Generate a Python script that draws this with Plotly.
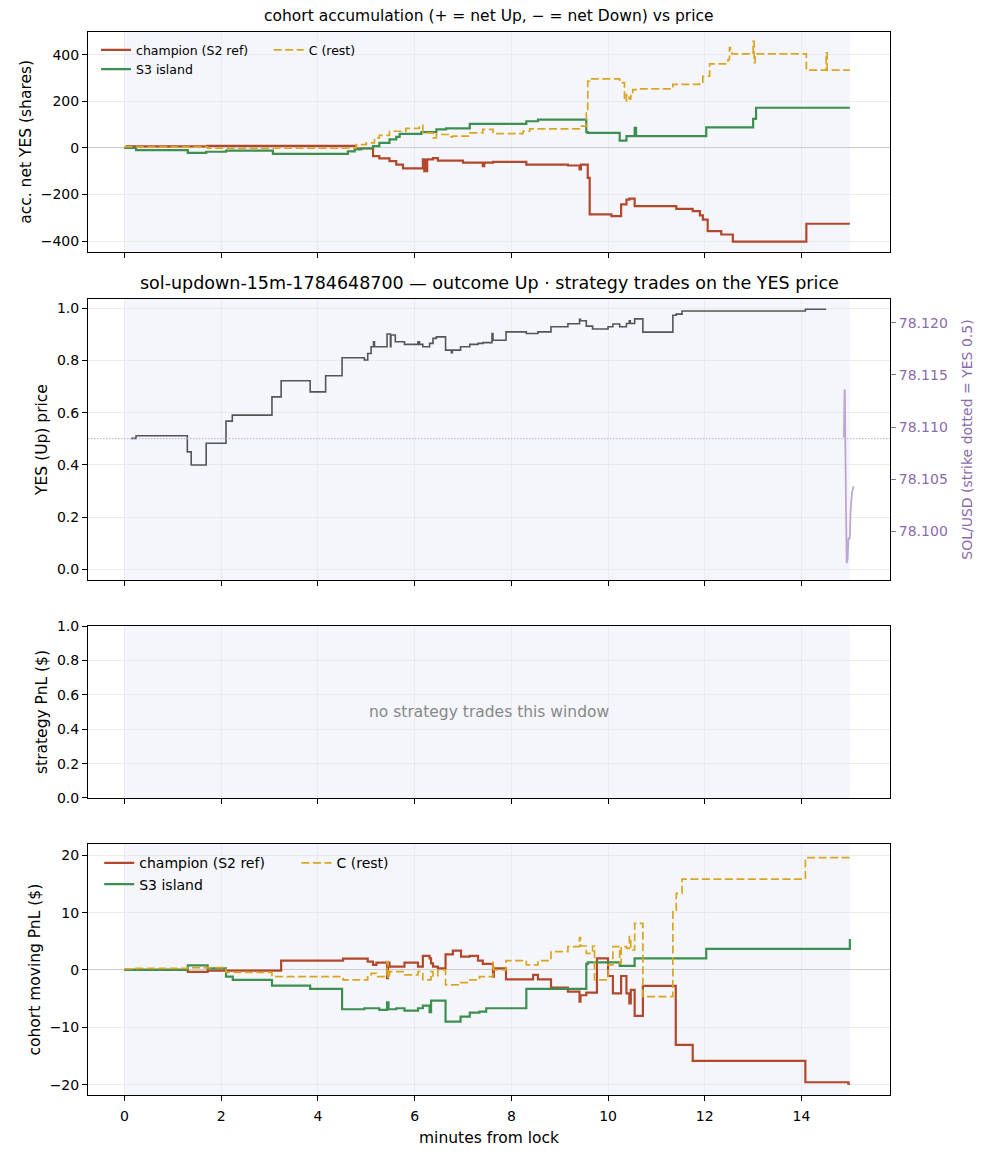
import plotly.graph_objects as go

# ---- data ------------------------------------------------------------------
WINDOW = [0.0, 15.0]          # lock .. resolution (minutes)
STRIKE = 78.10888             # SOL/USD strike

# panel 1: accumulated net YES shares
acc_champ_t = [0, 0.05, 1.72, 4.79, 5.14, 5.27, 5.48, 5.62, 5.76, 6.17, 6.20, 6.21, 6.25, 6.26,
               6.38, 6.48, 7.0, 7.41, 7.44, 7.62, 8.31, 9.17, 9.41, 9.44, 9.58, 9.62, 10.07,
               10.27, 10.38, 10.44, 10.55, 11.41, 11.75, 11.90, 11.96, 12.06, 12.34, 12.58,
               14.10, 15.0]
acc_champ = [0, 6, 8, -3, -36, -45, -57, -72, -88, -50, -100, -52, -100, -50,
             -44, -55, -64, -79, -64, -60, -72, -76, -93, -72, -129, -286, -293,
             -243, -222, -218, -250, -262, -272, -290, -308, -358, -372, -403,
             -326, -326]

acc_s3_t = [0, 0.24, 1.31, 1.69, 2.10, 3.07, 4.62, 4.76, 4.90, 5.14, 5.27, 5.48, 5.62, 5.69,
            6.14, 6.45, 6.65, 7.14, 8.31, 8.55, 9.55, 9.58, 10.24, 10.38, 10.55, 10.58,
            12.03, 13.0, 13.06, 15.0]
acc_s3 = [0, -10, -22, -17, -12, -26, -15, -7, -2, 7, 21, 36, 47, 60,
          67, 79, 83, 103, 114, 121, 67, 64, 31, 50, 86, 50,
          88, 124, 172, 172]

acc_rest_t = [0, 1.72, 4.79, 5.0, 5.17, 5.27, 5.48, 5.82, 6.10, 6.17, 6.38, 6.45, 6.72, 6.79,
              7.14, 7.41, 7.62, 8.24, 8.38, 9.41, 9.55, 9.58, 9.62, 10.24, 10.34, 10.38,
              10.44, 10.47, 10.51, 10.65, 11.34, 11.89, 11.96, 12.10, 12.48, 12.51, 12.53,
              12.56, 13.0, 13.02, 13.04, 14.10, 14.51, 14.53, 15.0]
acc_rest = [4, -2, 14, 21, 43, 53, 71, 83, 96, 64, 43, 57, 47, 50,
            64, 79, 61, 71, 81, 93, 157, 286, 296, 280, 200, 228,
            210, 228, 250, 253, 272, 282, 307, 360, 379, 430, 408,
            403, 457, 365, 403, 333, 408, 333, 333]

# panel 2: YES (Up) price and SOL/USD
yes_t = [0.14, 0.24, 1.30, 1.38, 1.69, 2.10, 2.23, 3.05, 3.24, 3.84, 4.16, 4.50, 4.96, 5.03,
         5.10, 5.15, 5.17, 5.43, 5.50, 5.51, 5.60, 5.79, 6.07, 6.10, 6.17, 6.31, 6.38, 6.45,
         6.64, 6.76, 6.78, 6.95, 7.14, 7.31, 7.41, 7.60, 7.62, 7.89, 8.31, 8.55, 8.82, 9.17,
         9.41, 9.43, 9.55, 9.68, 10.0, 10.10, 10.24, 10.38, 10.44, 10.46, 10.55, 10.72,
         11.34, 11.41, 11.53, 14.08, 14.51]
yes_price = [0.502, 0.512, 0.450, 0.400, 0.483, 0.568, 0.591, 0.661, 0.723, 0.680, 0.742,
             0.811, 0.802, 0.827, 0.853, 0.872, 0.853, 0.902, 0.853, 0.898, 0.872, 0.862,
             0.872, 0.862, 0.853, 0.866, 0.885, 0.891, 0.840, 0.830, 0.840, 0.853, 0.862,
             0.866, 0.869, 0.904, 0.878, 0.910, 0.904, 0.910, 0.930, 0.941, 0.958, 0.953,
             0.932, 0.921, 0.930, 0.940, 0.930, 0.942, 0.953, 0.942, 0.960, 0.909, 0.974,
             0.978, 0.990, 0.997, 0.997]

sol_t = [14.877, 14.884, 14.891, 14.898, 14.905, 14.912, 14.919, 14.926, 14.933, 14.940,
         14.954, 14.967, 14.974, 14.988, 15.001, 15.015, 15.029, 15.042, 15.060, 15.078]
sol_usd = [78.1090, 78.1133, 78.1136, 78.1135, 78.1090, 78.1040, 78.1000, 78.0975, 78.0969,
           78.0970, 78.0973, 78.0990, 78.0994, 78.0992, 78.0995, 78.1020, 78.1030, 78.1036,
           78.1040, 78.1043]

# panel 4: cohort moving PnL ($)
pnl_champ_t = [0, 1.31, 1.72, 3.24, 4.52, 5.03, 5.14, 5.21, 5.43, 5.45, 5.48, 5.79, 6.07, 6.17,
               6.31, 6.34, 6.38, 6.48, 6.64, 6.79, 6.96, 7.14, 7.31, 7.41, 7.62, 7.64, 7.89,
               8.45, 8.55, 8.82, 9.17, 9.41, 9.43, 9.55, 9.77, 10.0, 10.10, 10.27, 10.38,
               10.44, 10.47, 10.55, 10.72, 11.40, 11.75, 14.08, 14.97, 15.0]
pnl_champ = [0, -0.35, -0.1, 1.63, 1.97, 1.45, 0.87, 1.28, -1.45, 1.28, 0.58, 1.28, 0.58, 2.44,
             2.03, 1.16, 0.58, 0.29, 2.73, 3.37, 2.32, 2.44, 1.63, 1.05, -1.16, 0.29, -1.63,
             -0.87, -1.63, -3.07, -3.77, -5.52, -4.41, -3.95, 2.03, -1.05, -4.07, -1.05, -4.07,
             -5.81, -3.48, -8.01, -2.79, -13.07, -15.86, -19.58, -19.87, -19.87]

pnl_s3_t = [0, 1.31, 1.72, 2.10, 2.24, 3.05, 3.84, 4.50, 4.96, 5.27, 5.43, 5.46, 5.62, 5.79,
            6.07, 6.17, 6.31, 6.34, 6.64, 6.95, 7.14, 7.34, 7.48, 8.31, 9.55, 9.58, 10.24,
            10.55, 12.03, 15.0]
pnl_s3 = [0, 0.81, 0.29, -1.16, -1.74, -2.73, -3.31, -6.85, -6.68, -6.97, -5.63, -6.85, -6.68,
          -7.08, -6.68, -6.21, -7.37, -5.34, -9.0, -8.13, -7.43, -7.26, -6.68, -3.31, 1.05,
          1.31, 0.70, 2.03, 3.66, 5.4]

pnl_rest_t = [0, 0.24, 1.31, 2.10, 3.05, 4.52, 5.03, 5.10, 5.21, 5.43, 5.45, 5.48, 5.79, 6.07,
              6.17, 6.34, 6.38, 6.48, 6.64, 6.95, 7.14, 7.34, 7.62, 7.64, 7.89, 8.31, 8.55,
              8.82, 9.17, 9.41, 9.43, 9.55, 9.68, 9.72, 10.0, 10.10, 10.24, 10.27, 10.38,
              10.44, 10.47, 10.55, 10.72, 11.34, 11.41, 11.53, 14.08, 15.0]
pnl_rest = [0.17, 0.29, 0.41, -0.41, -1.16, -1.74, -0.87, -0.58, -1.16, 1.45, -1.45, -0.29,
            -0.87, -0.29, -1.74, -0.29, -1.05, 0, -2.61, -2.21, -1.74, -1.16, 1.31, 0, 1.63,
            0.87, 1.63, 3.19, 4.07, 5.63, 4.18, 2.9, 4.18, -1.74, 0.87, 4.07, 1.16, 4.07,
            3.77, 5.81, 3.48, 8.13, -4.65, 10.45, 13.36, 15.85, 19.57, 19.74]

COHORTS = ["champion (S2 ref)", "S3 island", "C (rest)"]
# -----------------------------------------------------------------------------

RED, GREEN, GOLD = "#b3472b", "#3d8f50", "#daa520"
PURPLE, LAVENDER = "#8a6aad", "#bba7d6"
FONT = "DejaVu Sans"
DASH = "8px,3.5px"

fig = go.Figure()


def step(x, y, ax, color, name=None, legend=None, dash="solid", width=2.2):
    fig.add_trace(go.Scatter(
        x=x, y=y, mode="lines", line=dict(shape="hv", color=color, width=width, dash=dash),
        xaxis=ax[0], yaxis=ax[1], name=name, showlegend=name is not None,
        legend=legend, hoverinfo="skip"))


# accumulation
step(acc_champ_t, acc_champ, ("x", "y"), RED, COHORTS[0], "legend")
step(acc_s3_t, acc_s3, ("x", "y"), GREEN, COHORTS[1], "legend")
step(acc_rest_t, acc_rest, ("x", "y"), GOLD, COHORTS[2], "legend2", dash=DASH, width=1.7)

# price + SOL
step(yes_t, yes_price, ("x2", "y2"), "#555555", width=1.6)
fig.add_trace(go.Scatter(x=sol_t, y=sol_usd, mode="lines", line=dict(color=LAVENDER, width=1.8),
                         xaxis="x2", yaxis="y5", showlegend=False, hoverinfo="skip"))

# cohort pnl
step(pnl_champ_t, pnl_champ, ("x4", "y4"), RED, COHORTS[0], "legend3")
step(pnl_s3_t, pnl_s3, ("x4", "y4"), GREEN, COHORTS[1], "legend3")
step(pnl_rest_t, pnl_rest, ("x4", "y4"), GOLD, COHORTS[2], "legend4", dash=DASH, width=1.7)

# shaded window + strike
shapes = []
for xa, ya in [("x", "y"), ("x2", "y2"), ("x3", "y3"), ("x4", "y4")]:
    shapes.append(dict(type="rect", xref=xa, yref=ya + " domain", x0=WINDOW[0], x1=WINDOW[1],
                       y0=0, y1=1, fillcolor="#f5f6fb", line=dict(width=0), layer="below"))
shapes.append(dict(type="line", xref="x2 domain", yref="y5", x0=0, x1=1, y0=STRIKE, y1=STRIKE,
                   line=dict(color=LAVENDER, width=1, dash="1.5px,1.5px")))

xcommon = dict(range=[-0.754, 15.83], tickvals=list(range(0, 16, 2)), showline=True, mirror=True,
               linecolor="black", linewidth=1, ticks="outside", ticklen=5, tickcolor="black",
               showgrid=True, gridcolor="#ebebeb", zeroline=False, tickfont=dict(size=14))
ycommon = dict(showline=True, mirror=True, linecolor="black", linewidth=1, ticks="outside",
               ticklen=5, tickcolor="black", showgrid=True, gridcolor="#ebebeb",
               tickfont=dict(size=14), title_font=dict(size=15.5), title_standoff=5)

legend_base = dict(xanchor="left", yanchor="top", bgcolor="rgba(0,0,0,0)", borderwidth=0,
                   orientation="v", itemwidth=30)

fig.update_layout(
    width=980, height=1148,
    margin=dict(l=80, r=98, t=24, b=61),
    plot_bgcolor="white", paper_bgcolor="white",
    font=dict(family=FONT, color="black", size=14),
    shapes=shapes,
    xaxis=dict(xcommon, anchor="y", matches="x4", showticklabels=False),
    xaxis2=dict(xcommon, anchor="y2", matches="x4", showticklabels=False),
    xaxis3=dict(xcommon, anchor="y3", matches="x4", showticklabels=False),
    xaxis4=dict(xcommon, anchor="y4", ticklabelstandoff=3,
                title=dict(text="minutes from lock", font=dict(size=15.5), standoff=9)),
    yaxis=dict(ycommon, domain=[0.7933, 1.0], range=[-446, 497],
               tickvals=[-400, -200, 0, 200, 400], zeroline=True, zerolinecolor="#cccccc",
               zerolinewidth=1, title_text="acc. net YES (shares)"),
    yaxis2=dict(ycommon, domain=[0.4845, 0.7488], range=[-0.041, 1.036],
                tickvals=[0, 0.2, 0.4, 0.6, 0.8, 1.0], tickformat=".1f", zeroline=False,
                title_text="YES (Up) price"),
    yaxis5=dict(overlaying="y2", anchor="x2", side="right", range=[78.0953, 78.1223],
                tickvals=[78.100, 78.105, 78.110, 78.115, 78.120], tickformat=".3f",
                ticks="outside", ticklen=5, tickcolor=PURPLE, showgrid=False, zeroline=False,
                tickfont=dict(size=14, color=PURPLE), showline=False,
                title=dict(text="SOL/USD (strike dotted = YES 0.5)",
                           font=dict(size=14, color=PURPLE), standoff=15)),
    yaxis3=dict(ycommon, domain=[0.2794, 0.4412], range=[0, 1],
                tickvals=[0, 0.2, 0.4, 0.6, 0.8, 1.0], tickformat=".1f", zeroline=False,
                title_text="strategy PnL ($)"),
    yaxis4=dict(ycommon, domain=[0.0, 0.2358], range=[-21.8, 21.9],
                tickvals=[-20, -10, 0, 10, 20], zeroline=True, zerolinecolor="#cccccc",
                zerolinewidth=1, title_text="cohort moving PnL ($)"),
    legend=dict(legend_base, x=0.010, y=0.997, font=dict(size=12.5)),
    legend2=dict(legend_base, x=0.2253, y=0.997, font=dict(size=12.5)),
    legend3=dict(legend_base, x=0.014, y=0.233, font=dict(size=14)),
    legend4=dict(legend_base, x=0.260, y=0.233, font=dict(size=14)),
    annotations=[
        dict(text="cohort accumulation (+ = net Up, \u2212 = net Down) vs price",
             xref="paper", yref="paper", x=0.5, y=1.0, yshift=5, showarrow=False,
             xanchor="center", yanchor="bottom", font=dict(size=15.5)),
        dict(text="sol-updown-15m-1784648700 \u2014 outcome Up \u00b7 strategy trades on the YES price",
             xref="paper", yref="paper", x=0.5, y=0.7488, yshift=4, showarrow=False,
             xanchor="center", yanchor="bottom", font=dict(size=17.5)),
        dict(text="no strategy trades this window", xref="x3 domain", yref="y3 domain",
             x=0.5, y=0.5, showarrow=False, font=dict(size=15.5, color="#888888")),
    ],
)

fig.write_html("out.html")
